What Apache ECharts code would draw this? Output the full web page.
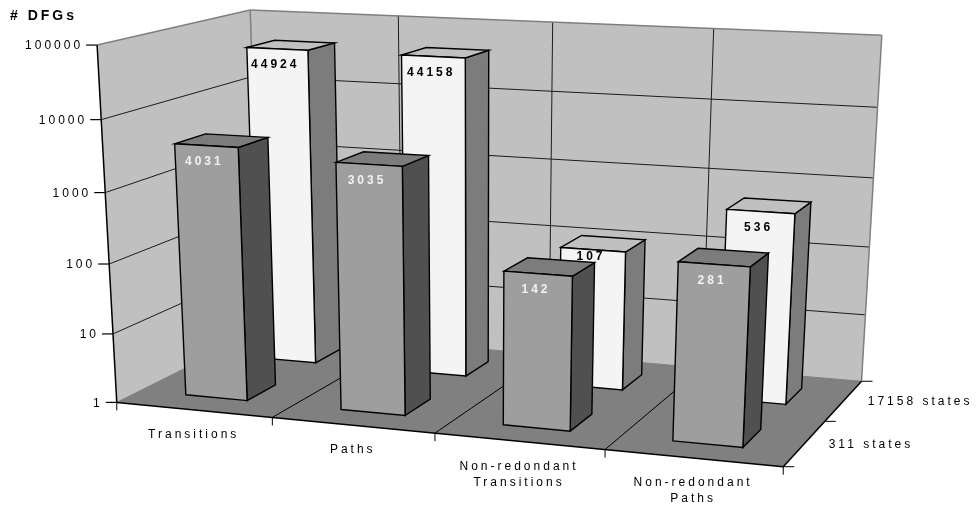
<!DOCTYPE html>
<html>
<head>
<meta charset="utf-8">
<style>html,body{margin:0;padding:0;background:#fff}#c{width:978px;height:512px}</style>
<script src="https://cdn.jsdelivr.net/npm/echarts@6/dist/echarts.min.js"></script>
</head>
<body>
<div id="c"></div>
<script>
const categories = ['Transitions', 'Paths', 'Non-redondant\nTransitions', 'Non-redondant\nPaths'];
const depthNames = ['311 states', '17158 states'];
const states311 = [4031, 3035, 142, 281];
const states17158 = [44924, 44158, 107, 536];
const yTicks = [1, 10, 100, 1000, 10000, 100000];
const yTitle = '# DFGs';

// wide tracking of the original labels
const origGet = HTMLCanvasElement.prototype.getContext;
HTMLCanvasElement.prototype.getContext = function (t, o) {
  const c = origGet.call(this, t, o);
  if (t === '2d' && c) c.letterSpacing = '3px';
  return c;
};

// ---- perspective camera, (u: category 0..4, v: depth 0..2, w: decades 0..5) -> screen
function solve(A, b) {
  const n = b.length, M = A.map((r, i) => r.concat([b[i]]));
  for (let i = 0; i < n; i++) {
    let p = i;
    for (let k = i + 1; k < n; k++) if (Math.abs(M[k][i]) > Math.abs(M[p][i])) p = k;
    [M[i], M[p]] = [M[p], M[i]];
    for (let k = 0; k < n; k++) if (k !== i) {
      const f = M[k][i] / M[i][i];
      for (let j = i; j <= n; j++) M[k][j] -= f * M[i][j];
    }
  }
  return M.map((r, i) => r[n] / r[i]);
}
// calibration of the view (u, v, w, screen x, screen y)
const calib = [
  [0,0,0,117,402],[1,0,0,272,418],[2,0,0,435,434],[3,0,0,605,449],[4,0,0,783,467],
  [4,1,0,825,421],[4,2,0,861,381],
  [0,0,1,113,334],[0,0,2,109,263.5],[0,0,3,106,192.6],[0,0,4,101,119.5],[0,0,5,97,45],
  [0,2,5,250,10],[1,2,5,398,16],[2,2,5,553,22],[3,2,5,714,29],[4,2,5,882,35],
  [4,2,4,877,107],[4,2,3,873,178],[4,2,2,870,247],[4,2,1,866,315]
];
const S = 1000, rows = [], rhs = [];
calib.forEach(([u, v, w, x0, y0]) => {
  const x = x0 / S, y = y0 / S;
  rows.push([u, v, w, 1, 0, 0, 0, 0, -x * u, -x * v, -x * w]); rhs.push(x);
  rows.push([0, 0, 0, 0, u, v, w, 1, -y * u, -y * v, -y * w]); rhs.push(y);
});
const idx = rows[0].map((_, i) => i);
const N = idx.map(i => idx.map(j => rows.reduce((s, r) => s + r[i] * r[j], 0)));
const nb = idx.map(i => rows.reduce((s, r, k) => s + r[i] * rhs[k], 0));
const m = solve(N, nb);
function project(u, v, w) {
  const W = m[8] * u + m[9] * v + m[10] * w + 1;
  return [S * (m[0] * u + m[1] * v + m[2] * w + m[3]) / W, S * (m[4] * u + m[5] * v + m[6] * w + m[7]) / W];
}

// hidden grid supplying the category and log scales
const G = { left: 0, top: 0, width: 400, height: 500 };
function uvw(api, cat, val) {
  const c = api.coord([cat, val]);
  return [(c[0] - G.left) / G.width * categories.length, (G.top + G.height - c[1]) / G.height * (yTicks.length - 1)];
}
const FONT = 'Liberation Sans, Arial, sans-serif';
const txt = (text, x, y, align, vAlign, weight, fill, size) => ({
  type: 'text', silent: true,
  style: { text, x, y, align, verticalAlign: vAlign, fontFamily: FONT, fontSize: size || 12, fontWeight: weight, fill, lineHeight: 16 }
});
const poly = (pts, fill, stroke, lw) => ({ type: 'polygon', silent: true, shape: { points: pts }, style: { fill, stroke: stroke || null, lineWidth: lw || 0 } });
const seg = (a, b, stroke, lw) => ({ type: 'line', silent: true, shape: { x1: a[0], y1: a[1], x2: b[0], y2: b[1] }, style: { stroke, lineWidth: lw } });

const DEC = yTicks.length - 1, NC = categories.length, ND = depthNames.length;

function renderFrame(params, api) {
  const ch = [];
  const P = project;
  ch.push(poly([P(0, 0, 0), P(0, 2, 0), P(0, 2, DEC), P(0, 0, DEC)], '#c0c0c0'));
  ch.push(poly([P(0, 2, 0), P(4, 2, 0), P(4, 2, DEC), P(0, 2, DEC)], '#c0c0c0'));
  ch.push(poly([P(0, 0, 0), P(4, 0, 0), P(4, 2, 0), P(0, 2, 0)], '#808080'));
  // gridlines
  yTicks.forEach(t => {
    const w = uvw(api, 0, t)[1];
    if (w > 0 && w < DEC) {
      ch.push(seg(P(0, 0, w), P(0, 2, w), '#1c1c1c', 1));
      ch.push(seg(P(0, 2, w), P(4, 2, w), '#1c1c1c', 1));
    }
  });
  for (let u = 1; u < NC; u++) {
    ch.push(seg(P(u, 2, 0), P(u, 2, DEC), '#1c1c1c', 1));
    ch.push(seg(P(u, 0, 0), P(u, 2, 0), '#000', 1));
  }
  // wall outlines
  ch.push(seg(P(0, 0, DEC), P(0, 2, DEC), '#7f7f7f', 1.5));
  ch.push(seg(P(0, 2, DEC), P(4, 2, DEC), '#7f7f7f', 1.5));
  ch.push(seg(P(4, 2, DEC), P(4, 2, 0), '#7f7f7f', 1.5));
  ch.push(seg(P(0, 2, DEC), P(0, 2, 0), '#7f7f7f', 1.5));
  ch.push(seg(P(0, 2, 0), P(4, 2, 0), '#7f7f7f', 1));
  ch.push(seg(P(0, 0, 0), P(0, 2, 0), '#7f7f7f', 1));
  // axes
  ch.push(seg(P(0, 0, 0), P(0, 0, DEC), '#000', 1.5));
  ch.push(seg(P(0, 0, 0), P(4, 0, 0), '#000', 1.5));
  ch.push(seg(P(4, 0, 0), P(4, 2, 0), '#000', 1.5));
  // y ticks and labels
  yTicks.forEach(t => {
    const w = uvw(api, 0, t)[1], a = P(0, 0, w);
    ch.push(seg([a[0] - 11, a[1]], a, '#000', 1.2));
    ch.push(txt(String(t), a[0] - 14, a[1] + 1, 'right', 'middle', 'normal', '#000'));
  });
  // category ticks and labels
  for (let u = 0; u <= NC; u++) {
    const a = P(u, 0, 0);
    ch.push(seg(a, [a[0], a[1] + 8], '#000', 1));
  }
  categories.forEach((c, i) => {
    const a = P(i + 0.5, 0, 0);
    ch.push(txt(c, a[0], a[1] + 17, 'center', 'top', 'normal', '#000'));
  });
  // depth ticks and labels
  for (let v = 0; v <= ND; v++) {
    const a = P(4, v, 0);
    ch.push(seg(a, [a[0] + 11, a[1]], '#000', 1));
  }
  depthNames.forEach((d, i) => {
    const a = P(4, i + 0.5, 0);
    ch.push(txt(d, a[0] + 24, a[1] + 1, 'left', 'middle', 'normal', '#000'));
  });
  ch.push(txt(yTitle, 10, 16, 'left', 'middle', 'bold', '#000', 14));
  return { type: 'group', children: ch };
}

const GAP = 0.3;
const barStyle = [
  { front: '#9e9e9e', top: '#7c7c7c', side: '#505050', label: '#f2f2f2' },
  { front: '#f4f4f4', top: '#c0c0c0', side: '#7c7c7c', label: '#000' }
];
function renderBars(row) {
  return function (params, api) {
    const [uc, w] = uvw(api, api.value(0), api.value(1));
    const u0 = uc - 0.5 + GAP, u1 = uc + 0.5 - GAP, v0 = row + GAP, v1 = row + 1 - GAP;
    const s = barStyle[row], P = project, E = '#000', L = 1.4;
    // the label of the short back bar sits higher in the original
    const dy = (row === 1 && api.value(0) === 2) ? 7 : 16;
    const a = P(uc, v0, w);
    return {
      type: 'group',
      children: [
        poly([P(u1, v0, 0), P(u1, v1, 0), P(u1, v1, w), P(u1, v0, w)], s.side, E, L),
        poly([P(u0, v0, w), P(u1, v0, w), P(u1, v1, w), P(u0, v1, w)], s.top, E, L),
        poly([P(u0, v0, 0), P(u1, v0, 0), P(u1, v0, w), P(u0, v0, w)], s.front, E, L),
        txt(String(api.value(1)), a[0] - 2, a[1] + dy, 'center', 'middle', 'bold', s.label)
      ]
    };
  };
}

const chart = echarts.init(document.getElementById('c'), null, { renderer: 'canvas' });
chart.setOption({
  animation: false,
  backgroundColor: '#fff',
  tooltip: { show: false },
  grid: { show: false, left: G.left, top: G.top, width: G.width, height: G.height, containLabel: false },
  xAxis: { type: 'category', data: categories, show: false },
  yAxis: { type: 'log', logBase: 10, min: yTicks[0], max: yTicks[yTicks.length - 1], show: false },
  series: [
    { type: 'custom', clip: false, silent: true, renderItem: renderFrame, data: [[0, 1]], encode: { x: 0, y: 1 }, z: 1 },
    { type: 'custom', name: depthNames[1], clip: false, silent: true, renderItem: renderBars(1), data: states17158.map((v, i) => [i, v]), encode: { x: 0, y: 1 }, z: 2 },
    { type: 'custom', name: depthNames[0], clip: false, silent: true, renderItem: renderBars(0), data: states311.map((v, i) => [i, v]), encode: { x: 0, y: 1 }, z: 3 }
  ]
});
</script>
</body>
</html>
